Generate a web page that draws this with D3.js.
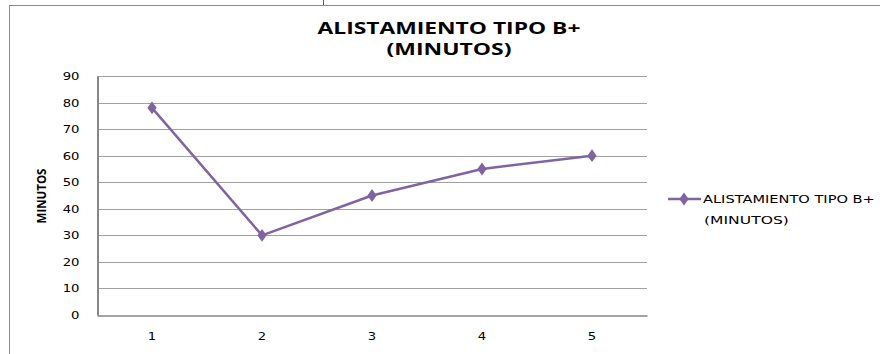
<!DOCTYPE html>
<html>
<head>
<meta charset="utf-8">
<script src="https://cdn.jsdelivr.net/npm/d3@7"></script>
<style>
  html, body { margin: 0; padding: 0; background: #fff; }
  svg { display: block; }
</style>
</head>
<body>
<svg id="chart" width="880" height="354"></svg>
<script>
// Series data
const categories = ["1", "2", "3", "4", "5"];
const values = [78, 30, 45, 55, 60];
const yTicks = [0, 10, 20, 30, 40, 50, 60, 70, 80, 90];
const seriesName = ["ALISTAMIENTO TIPO B+", "(MINUTOS)"];
const titleLines = ["ALISTAMIENTO TIPO B+", "(MINUTOS)"];
const yAxisTitle = "MINUTOS";

const svg = d3.select("#chart");
const purple = "#8064A2";
const gridColor = "#a0a0a0";
const axisColor = "#868686";
const bodyFont = "DejaVu Sans, Verdana, sans-serif";
const boldFont = "Open Sans, Liberation Sans, sans-serif";

// Widen text horizontally around its anchor point
function widen(sel, factor) {
  sel.each(function () {
    const t = d3.select(this);
    const x0 = +t.attr("x") || 0;
    const y0 = +t.attr("y") || 0;
    t.attr("x", 0).attr("y", 0)
      .attr("transform", `translate(${x0},${y0}) scale(${factor},1)`);
  });
}

// Place a text at (cx, cy) and stretch it horizontally to a given width
function fitWidth(txt, cx, cy, width) {
  const len = txt.node().getComputedTextLength();
  txt.attr("transform", `translate(${cx},${cy}) scale(${width / len},1)`);
}

// Chart frame
svg.append("rect")
  .attr("x", 9.5).attr("y", 5.5)
  .attr("width", 900).attr("height", 400)
  .attr("fill", "#fff").attr("stroke", "#8c8c8c").attr("stroke-width", 1);
svg.append("line")
  .attr("x1", 323.5).attr("x2", 323.5).attr("y1", 0).attr("y2", 5)
  .attr("stroke", "#555").attr("stroke-width", 1);

const plot = { left: 97, right: 647, top: 76, bottom: 315 };

const x = d3.scaleBand().domain(categories).range([plot.left, plot.right]);
const y = d3.scaleLinear().domain([0, 90]).range([plot.bottom, plot.top]);

// Horizontal gridlines
svg.append("g")
  .selectAll("line")
  .data(yTicks.filter(d => d > 0))
  .join("line")
  .attr("x1", plot.left).attr("x2", plot.right)
  .attr("y1", d => Math.round(y(d)) + 0.5).attr("y2", d => Math.round(y(d)) + 0.5)
  .attr("stroke", gridColor).attr("stroke-width", 1);

// Y axis
const yAxis = svg.append("g")
  .attr("transform", `translate(${plot.left + 0.5},0)`)
  .call(d3.axisLeft(y).tickValues(yTicks).tickSize(0).tickPadding(18));
yAxis.select(".domain").attr("stroke", axisColor).attr("stroke-width", 2);
yAxis.selectAll("text")
  .attr("font-family", bodyFont)
  .attr("font-size", 11).attr("fill", "#000")
  .call(widen, 1.2);

// X axis
const xAxis = svg.append("g")
  .attr("transform", `translate(0,${plot.bottom + 0.5})`)
  .call(d3.axisBottom(x).tickSize(0).tickPadding(17));
xAxis.select(".domain").attr("stroke", axisColor).attr("stroke-width", 1.5);
xAxis.selectAll("text")
  .attr("font-family", bodyFont)
  .attr("font-size", 11).attr("fill", "#000")
  .call(widen, 1.2);

// Title, two centred lines
const titleWidths = [263, 125];
titleLines.forEach((t, i) => {
  const txt = svg.append("text")
    .attr("text-anchor", "middle")
    .attr("font-family", boldFont)
    .attr("font-weight", "bold").attr("font-size", 15.5).attr("fill", "#000")
    .text(t);
  fitWidth(txt, 449, 33.5 + i * 21.5, titleWidths[i]);
});

// Y axis title, stretched to a fixed length along the axis
const yTitle = svg.append("text")
  .attr("text-anchor", "middle")
  .attr("font-family", boldFont)
  .attr("font-weight", "bold").attr("font-size", 12.5).attr("fill", "#000")
  .text(yAxisTitle);
const yTitleLen = yTitle.node().getComputedTextLength();
yTitle.attr("transform", `translate(46,196) rotate(-90) scale(${55 / yTitleLen},1)`);

// Series line
const line = d3.line()
  .x((d, i) => x(categories[i]) + x.bandwidth() / 2)
  .y(d => y(d));
svg.append("path")
  .datum(values)
  .attr("d", line)
  .attr("fill", "none").attr("stroke", purple).attr("stroke-width", 2.5)
  .attr("stroke-linejoin", "round");

const diamond = d3.symbol().type(d3.symbolDiamond).size(48);
svg.append("g")
  .selectAll("path")
  .data(values)
  .join("path")
  .attr("d", diamond)
  .attr("transform", (d, i) => `translate(${x(categories[i]) + x.bandwidth() / 2},${y(d)}) scale(1.25,1)`)
  .attr("fill", purple);

// Legend
const legend = svg.append("g");
legend.append("line")
  .attr("x1", 668).attr("x2", 701).attr("y1", 199).attr("y2", 199)
  .attr("stroke", purple).attr("stroke-width", 2.5);
legend.append("path")
  .attr("d", diamond)
  .attr("transform", "translate(684,199) scale(1.25,1)")
  .attr("fill", purple);
const legendWidths = [172, 85];
seriesName.forEach((t, i) => {
  const txt = legend.append("text")
    .attr("font-family", bodyFont)
    .attr("font-size", 10.5).attr("fill", "#000")
    .text(t);
  fitWidth(txt, 703 + i, 203 + i * 21, legendWidths[i]);
});
</script>
</body>
</html>
